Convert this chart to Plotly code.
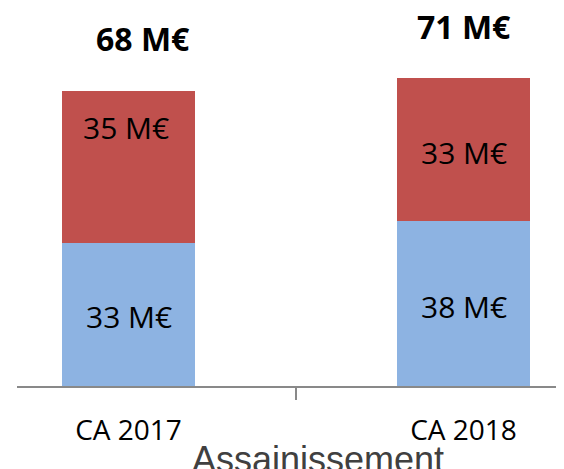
import plotly.graph_objects as go

categories = ["CA 2017", "CA 2018"]
bottom_values = [33, 38]   # blue segment (M€)
top_values = [35, 33]      # red segment (M€)
totals = [68, 71]
unit = " M€"

x_pos = list(range(len(categories)))

fig = go.Figure()
fig.add_trace(go.Bar(x=x_pos, y=bottom_values, marker=dict(color="#8DB3E2", line=dict(width=0)),
                     width=0.397, hoverinfo="skip"))
fig.add_trace(go.Bar(x=x_pos, y=top_values, marker=dict(color="#C0504D", line=dict(width=0)),
                     width=0.397, hoverinfo="skip"))

seg_font = dict(family="Open Sans, Noto Sans, sans-serif", size=30, color="#000000")
# segment labels
bottom_shift = [-2, -3]
top_shift = [39, -3]
for i, xv in enumerate(x_pos):
    fig.add_annotation(x=xv, y=bottom_values[i] / 2, text=f"{bottom_values[i]}{unit}",
                       showarrow=False, font=seg_font, yshift=bottom_shift[i])
    fig.add_annotation(x=xv, y=bottom_values[i] + top_values[i] / 2, text=f"{top_values[i]}{unit}",
                       showarrow=False, font=seg_font, yshift=top_shift[i], xshift=-3 if i == 0 else 0)

# totals
tot_xshift = [14, 0]
tot_yshift = [52, 51]
for i, xv in enumerate(x_pos):
    fig.add_annotation(x=xv, y=totals[i], text=f"<b>{totals[i]}{unit}</b>", showarrow=False,
                       font=dict(family="Open Sans, Noto Sans, sans-serif", size=32, color="#000000"),
                       xshift=tot_xshift[i], yshift=tot_yshift[i])

# axis title
fig.add_annotation(xref="paper", yref="paper", x=0.55, y=-0.255, yanchor="bottom", xanchor="center",
                   text="Assainissement", showarrow=False,
                   font=dict(family="Liberation Sans, Arial, sans-serif", size=36, color="#404040"))

fig.update_layout(
    barmode="stack",
    width=556, height=461,
    margin=dict(l=9, r=0, t=0, b=83),
    paper_bgcolor="white", plot_bgcolor="white",
    showlegend=False,
    xaxis=dict(
        range=[-0.333, 1.30],
        tickvals=x_pos, ticktext=categories,
        ticks="", showgrid=False, zeroline=False,
        showline=True, linecolor="#898989", linewidth=2,
        tickfont=dict(family="Open Sans, Noto Sans, sans-serif", size=28, color="#000000"),
        ticklabelstandoff=18,
        minor=dict(tickvals=[0.5], ticks="outside", ticklen=12, tickcolor="#898989", tickwidth=2),
    ),
    yaxis=dict(range=[0, 87.1], visible=False, showgrid=False, zeroline=False),
)

fig.write_html("out.html")
